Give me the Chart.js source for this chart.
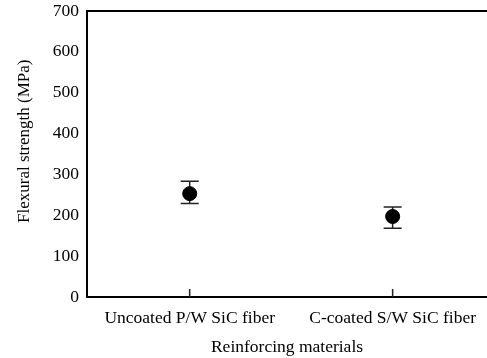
<!DOCTYPE html>
<html lang="en">
  <head>
    <meta charset="UTF-8">
    <title>Flexural strength</title>
    <script src="https://cdn.jsdelivr.net/npm/chart.js@4"></script>
    <style>
      html, body { margin: 0; padding: 0; background: #fff; }
      #wrap { width: 487px; height: 358px; }
    </style>
  </head>
  <body>
    <div id="wrap"><canvas id="chart"></canvas></div>
    <script>
      const categories = ['Uncoated P/W SiC fiber', 'C-coated S/W SiC fiber']
      const strength = [253, 197]
      const errLow = [229, 168]
      const errHigh = [283, 220]
      const yTicks = [0, 100, 200, 300, 400, 500, 600, 700]

      const font = 'Liberation Serif'
      const fs = 17.5

      // error bars + inward x ticks, drawn through the chart scales
      const errorBars = {
        id: 'errorBars',
        beforeDatasetsDraw(chart) {
          const { ctx, scales: { x, y }, chartArea } = chart
          ctx.save()
          ctx.strokeStyle = '#222'
          ctx.lineWidth = 1.5
          categories.forEach((c, i) => {
            const px = x.getPixelForValue(i + 1)
            const top = y.getPixelForValue(errHigh[i])
            const bot = y.getPixelForValue(errLow[i])
            ctx.beginPath()
            ctx.moveTo(px, top); ctx.lineTo(px, bot)
            ctx.moveTo(px - 9, top); ctx.lineTo(px + 9, top)
            ctx.moveTo(px - 9, bot); ctx.lineTo(px + 9, bot)
            // tick mark on the x axis
            ctx.moveTo(px, chartArea.bottom); ctx.lineTo(px, chartArea.bottom - 8)
            ctx.stroke()
          })
          ctx.restore()
        }
      }

      new Chart(document.getElementById('chart'), {
        type: 'scatter',
        data: {
          datasets: [{
            data: strength.map((v, i) => ({ x: i + 1, y: v })),
            backgroundColor: '#000',
            borderColor: '#000',
            pointRadius: 7,
            pointHoverRadius: 7,
          }]
        },
        options: {
          responsive: true,
          maintainAspectRatio: false,
          animation: false,
          layout: { autoPadding: false, padding: { top: 11, right: 0, bottom: 0, left: 14 } },
          plugins: { legend: { display: false }, tooltip: { enabled: false } },
          scales: {
            x: {
              type: 'linear',
              min: 0.494,
              max: 2.465,
              afterBuildTicks: (s) => { s.ticks = [{ value: 1 }, { value: 2 }] },
              afterFit: (s) => { s.height = 61; s.paddingRight = 0; s.paddingLeft = 0 },
              grid: { display: true, drawOnChartArea: false, drawTicks: false, color: '#000' },
              border: { color: '#000', width: 2 },
              ticks: {
                color: '#000',
                padding: 11,
                maxRotation: 0,
                font: { family: font, size: fs },
                callback: (v) => categories[v - 1] ?? ''
              },
              title: {
                display: true,
                text: 'Reinforcing materials',
                color: '#000',
                padding: { top: 3, bottom: 0 },
                font: { family: font, size: fs }
              }
            },
            y: {
              min: 0,
              max: 700,
              afterBuildTicks: (s) => { s.ticks = yTicks.map(v => ({ value: v })) },
              afterFit: (s) => { s.width = 73; s.paddingTop = 0; s.paddingBottom = 0 },
              grid: {
                drawTicks: false,
                lineWidth: 2,
                color: (c) => c.tick && c.tick.value === 700 ? '#000' : 'rgba(0,0,0,0)'
              },
              border: { color: '#000', width: 2 },
              ticks: {
                color: '#000',
                padding: 8,
                font: { family: font, size: fs }
              },
              title: {
                display: true,
                // leading spaces nudge the rotated title upward, as in the original
                text: '      Flexural strength (MPa)',
                color: '#000',
                padding: { top: 0, bottom: 4 },
                font: { family: font, size: 17 }
              }
            }
          }
        },
        plugins: [errorBars]
      })
    </script>
  </body>
</html>
